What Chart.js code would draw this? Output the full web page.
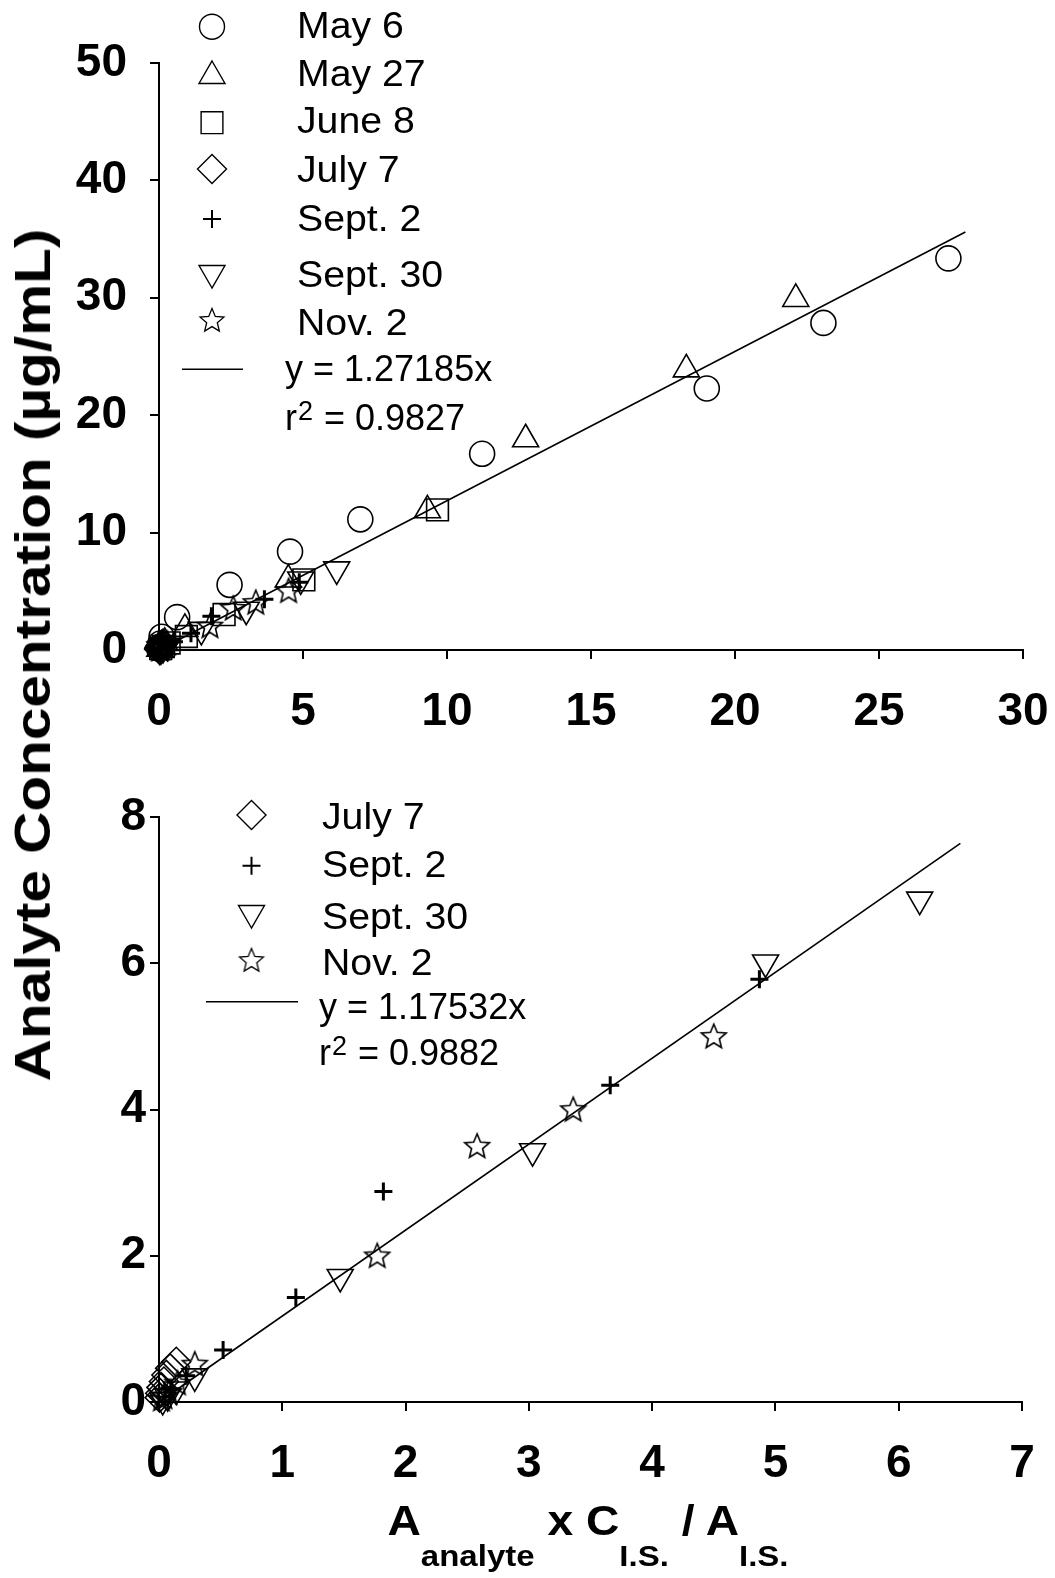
<!DOCTYPE html>
<html>
<head>
<meta charset="utf-8">
<title>Analyte calibration</title>
<script src="https://cdn.jsdelivr.net/npm/chart.js@4/dist/chart.umd.min.js"></script>
<style>
  html, body { margin: 0; padding: 0; background: #fff; }
  #page { position: relative; width: 1055px; height: 1578px; overflow: hidden; background: #fff;
          font-family: "Liberation Sans", Arial, sans-serif; color: #000; }
  #topChart { position: absolute; left: 0; top: 0; }
  #bottomChart { position: absolute; left: 0; top: 760px; }
  #ytitle { position: absolute; left: 33px; top: 655px; white-space: nowrap;
            font: bold 50px "Liberation Sans", Arial, sans-serif;
            transform: translate(-50%, -50%) rotate(-90deg) scaleX(1.17); }
  #xtitle { position: absolute; left: 588px; top: 1497px; height: 50px; line-height: 50px;
            white-space: nowrap; transform: translateX(-50%) scaleX(1.1);
            font: bold 42px "Liberation Sans", Arial, sans-serif; }
  #xtitle sub { font-size: 30px; line-height: 0; vertical-align: baseline; position: relative; top: 31px; }
</style>
</head>
<body>
<div id="page">
  <canvas id="topChart" width="1055" height="760"></canvas>
  <canvas id="bottomChart" width="1055" height="818"></canvas>
  <div id="ytitle">Analyte Concentration (µg/mL)</div>
  <div id="xtitle">A<sub>analyte</sub> x C<sub>I.S.</sub> / A<sub>I.S.</sub></div>
</div>
<script>
// ---- sampling dates ----
const seriesNames = ['May 6', 'May 27', 'June 8', 'July 7', 'Sept. 2', 'Sept. 30', 'Nov. 2'];

// ---- measured response ratio (x) and concentration (y, µg/mL) per date ----
const may6X  = [27.41, 23.07, 19.02, 11.22, 6.99, 4.55, 2.45, 0.63, 0.09, 0.05, 0.03, 0.01];
const may6Y  = [33.36, 27.86, 22.28, 16.71, 11.13, 8.38, 5.55, 2.80, 1.13, 0.56, 0.28, 0.11];
const may27X = [22.11, 18.31, 12.73, 9.32, 4.49, 0.90, 0.20, 0.08, 0.03];
const may27Y = [29.90, 23.90, 17.95, 11.90, 6.00, 1.80, 0.60, 0.30, 0.12];
const june8X = [9.67, 5.03, 2.26, 0.95, 0.35, 0.15, 0.06];
const june8Y = [11.94, 5.97, 3.02, 1.15, 0.60, 0.30, 0.12];
const july7X = [0.14, 0.09, 0.06, 0.04, 0.02, 0.01, 0.005];
const july7Y = [0.55, 0.46, 0.37, 0.28, 0.20, 0.12, 0.06];
const sep2X  = [4.87, 3.66, 1.82, 1.11, 0.52, 0.22, 0.10, 0.05];
const sep2Y  = [5.78, 4.33, 2.88, 1.43, 0.71, 0.36, 0.18, 0.07];
const sep30X = [6.17, 4.92, 3.03, 1.47, 0.29, 0.14, 0.07, 0.03];
const sep30Y = [6.87, 6.01, 3.43, 1.71, 0.35, 0.17, 0.08, 0.03];
const nov2X  = [4.50, 3.36, 2.58, 1.77, 0.29, 0.15, 0.08, 0.04, 0.02];
const nov2Y  = [4.99, 3.99, 3.49, 1.99, 0.51, 0.25, 0.12, 0.06, 0.03];

// ---- regression fits (through origin) ----
const allFitSlope = 1.27185, allFitR2 = '0.9827', allFitEnd = 28;
const lateFitSlope = 1.17532, lateFitR2 = '0.9882', lateFitEnd = 6.5;

// ---- axis tick values ----
const topXTicks = [0, 5, 10, 15, 20, 25, 30];
const topYTicks = [0, 10, 20, 30, 40, 50];
const bottomXTicks = [0, 1, 2, 3, 4, 5, 6, 7];
const bottomYTicks = [0, 2, 4, 6, 8];

const FONT = '"Liberation Sans", Arial, sans-serif';
const KEY_STRETCH = 1.09;   // date labels in the key are set slightly wide

// five-pointed open star used as a point style
function starImage(R, r, lw) {
  const s = Math.ceil(2 * R + 2 * lw + 2);
  const c = document.createElement('canvas');
  c.width = s; c.height = s;
  const g = c.getContext('2d');
  g.translate(s / 2, s / 2);
  g.beginPath();
  for (let i = 0; i < 10; i++) {
    const a = -Math.PI / 2 + i * Math.PI / 5;
    const rr = i % 2 ? r : R;
    g.lineTo(rr * Math.cos(a), rr * Math.sin(a));
  }
  g.closePath();
  g.lineWidth = lw;
  g.strokeStyle = '#000';
  g.stroke();
  return c;
}

const starData = starImage(13, 5.8, 1.6);
const starKey = starImage(12.5, 5.6, 1.3);

// marker look for each date
const markerStyles = {
  'May 6':    { pointStyle: 'circle',   radius: 12.5, rotation: 0,   width: 1.6, keyWidth: 1.4 },
  'May 27':   { pointStyle: 'triangle', radius: 15,   rotation: 0,   width: 1.6, keyWidth: 1.4 },
  'June 8':   { pointStyle: 'rect',     radius: 15.4, rotation: 0,   width: 1.6, keyWidth: 1.4 },
  'July 7':   { pointStyle: 'rectRot',  radius: 14.5, rotation: 0,   width: 1.6, keyWidth: 1.4 },
  'Sept. 2':  { pointStyle: 'cross',    radius: 9,    rotation: 0,   width: 3,   keyWidth: 2 },
  'Sept. 30': { pointStyle: 'triangle', radius: 15,   rotation: 180, width: 1.6, keyWidth: 1.4 },
  'Nov. 2':   { pointStyle: starData,   keyStyle: starKey, radius: 12, rotation: 0, width: 1.6, keyWidth: 1.4 }
};

const seriesXY = {
  'May 6': [may6X, may6Y], 'May 27': [may27X, may27Y], 'June 8': [june8X, june8Y],
  'July 7': [july7X, july7Y], 'Sept. 2': [sep2X, sep2Y], 'Sept. 30': [sep30X, sep30Y],
  'Nov. 2': [nov2X, nov2Y]
};

function pointsOf(name) {
  const [xs, ys] = seriesXY[name];
  return xs.map((x, i) => ({ x: x, y: ys[i] }));
}

function scatterDataset(name) {
  const m = markerStyles[name];
  return {
    label: name,
    data: pointsOf(name),
    showLine: false,
    pointStyle: m.pointStyle,
    pointRadius: m.radius,
    pointRotation: m.rotation,
    pointBorderWidth: m.width,
    pointBorderColor: '#000',
    pointBackgroundColor: 'rgba(0,0,0,0)',
    clip: false,
    order: 1
  };
}

function fitDataset(slope, end) {
  return {
    label: 'fit',
    data: [{ x: 0, y: 0 }, { x: end, y: slope * end }],
    showLine: true,
    borderColor: '#000',
    borderWidth: 1.6,
    pointRadius: 0,
    clip: false,
    order: 2
  };
}

// text drawn with an optional horizontal stretch; returns the advance width
function stretchedText(ctx, text, x, y, k) {
  ctx.save();
  ctx.translate(x, y);
  ctx.scale(k, 1);
  ctx.fillText(text, 0, 0);
  const w = ctx.measureText(text).width * k;
  ctx.restore();
  return w;
}

// key drawn inside the plot: marker + label rows, then the fit line rows
function makeKey(rows, fit) {
  return {
    id: 'seriesKey',
    afterDatasetsDraw(chart) {
      const ctx = chart.ctx;
      ctx.save();
      ctx.strokeStyle = '#000';
      ctx.textAlign = 'left';
      ctx.textBaseline = 'alphabetic';
      rows.forEach(row => {
        const m = markerStyles[row.name];
        ctx.lineWidth = m.keyWidth;
        ctx.fillStyle = 'rgba(0,0,0,0)';
        Chart.helpers.drawPoint(ctx, {
          pointStyle: m.keyStyle || m.pointStyle,
          radius: m.radius,
          rotation: m.rotation,
          borderWidth: m.keyWidth
        }, row.mx, row.my);
        ctx.fillStyle = '#000';
        ctx.font = '36px ' + FONT;
        stretchedText(ctx, row.name, row.tx, row.ty, KEY_STRETCH);
      });
      // regression line sample and equation
      ctx.lineWidth = 1.6;
      ctx.beginPath();
      ctx.moveTo(fit.x1, fit.ly);
      ctx.lineTo(fit.x2, fit.ly);
      ctx.stroke();
      ctx.fillStyle = '#000';
      ctx.font = '36px ' + FONT;
      stretchedText(ctx, 'y = ' + fit.slope + 'x', fit.tx, fit.ty1, 1);
      let x = fit.tx;
      x += stretchedText(ctx, 'r', x, fit.ty2, 1) + 1;
      ctx.font = '27px ' + FONT;
      x += stretchedText(ctx, '2', x, fit.ty2 - 10, 1) + 1;
      ctx.font = '36px ' + FONT;
      stretchedText(ctx, ' = ' + fit.r2, x, fit.ty2, 1);
      ctx.restore();
    }
  };
}

function axis(ticks, fixed, isX, labelPad) {
  return {
    type: 'linear',
    min: ticks[0],
    max: ticks[ticks.length - 1],
    afterBuildTicks: s => { s.ticks = ticks.map(v => ({ value: v })); },
    afterFit: s => {
      if (isX) { s.height = fixed; s.paddingLeft = 0; s.paddingRight = 0; }
      else { s.width = fixed; s.paddingTop = 0; s.paddingBottom = 0; }
    },
    grid: { display: true, drawOnChartArea: false, drawTicks: true, tickLength: 9,
            color: '#000', lineWidth: 2 },
    border: { display: true, color: '#000', width: 2 },
    ticks: { color: '#000', padding: labelPad, autoSkip: false, maxRotation: 0, minRotation: 0,
             font: { family: FONT, size: 46, weight: 'bold' },
             callback: v => String(v) }
  };
}

function build(canvasId, names, fit, key, frame) {
  const datasets = names.map(scatterDataset);
  datasets.push(fitDataset(fit.slope, fit.end));
  return new Chart(document.getElementById(canvasId), {
    type: 'scatter',
    data: { datasets: datasets },
    options: {
      responsive: false,
      animation: false,
      devicePixelRatio: 1,
      events: [],
      layout: { padding: frame.padding },
      plugins: { legend: { display: false }, tooltip: { enabled: false }, title: { display: false } },
      scales: {
        x: axis(frame.xTicks, frame.xHeight, true, frame.xPad),
        y: axis(frame.yTicks, frame.yWidth, false, frame.yPad)
      }
    },
    plugins: [makeKey(key, Object.assign({}, fit, frame.fitKey))]
  });
}

// upper panel: all sampling dates
build('topChart', seriesNames,
  { slope: allFitSlope, r2: allFitR2, end: allFitEnd },
  [
    { name: 'May 6',    mx: 212, my: 26.7,  tx: 297, ty: 38.3 },
    { name: 'May 27',   mx: 212, my: 76,    tx: 297, ty: 86 },
    { name: 'June 8',   mx: 212, my: 122.7, tx: 297, ty: 133.3 },
    { name: 'July 7',   mx: 212, my: 169,   tx: 297, ty: 182 },
    { name: 'Sept. 2',  mx: 212, my: 219,   tx: 297, ty: 231 },
    { name: 'Sept. 30', mx: 212, my: 273,   tx: 297, ty: 286.7 },
    { name: 'Nov. 2',   mx: 212, my: 321,   tx: 297, ty: 335 }
  ],
  {
    padding: { left: 0, right: 32, top: 63, bottom: 0 },
    xTicks: topXTicks, yTicks: topYTicks,
    xHeight: 110, yWidth: 159, xPad: 26, yPad: 23,
    fitKey: { x1: 182, x2: 243, ly: 369.3, tx: 285, ty1: 381, ty2: 430 }
  });

// lower panel: later sampling dates, expanded low range
build('bottomChart', ['July 7', 'Sept. 2', 'Sept. 30', 'Nov. 2'],
  { slope: lateFitSlope, r2: lateFitR2, end: lateFitEnd },
  [
    { name: 'July 7',   mx: 251.5, my: 55,    tx: 322, ty: 69 },
    { name: 'Sept. 2',  mx: 251.5, my: 105.7, tx: 322, ty: 117 },
    { name: 'Sept. 30', mx: 251.5, my: 153,   tx: 322, ty: 169 },
    { name: 'Nov. 2',   mx: 251.5, my: 201,   tx: 322, ty: 215 }
  ],
  {
    padding: { left: 0, right: 33, top: 57, bottom: 0 },
    xTicks: bottomXTicks, yTicks: bottomYTicks,
    xHeight: 176, yWidth: 159, xPad: 26, yPad: 4,
    fitKey: { x1: 206, x2: 298, ly: 241.7, tx: 319, ty1: 258.5, ty2: 305 }
  });
</script>
</body>
</html>
